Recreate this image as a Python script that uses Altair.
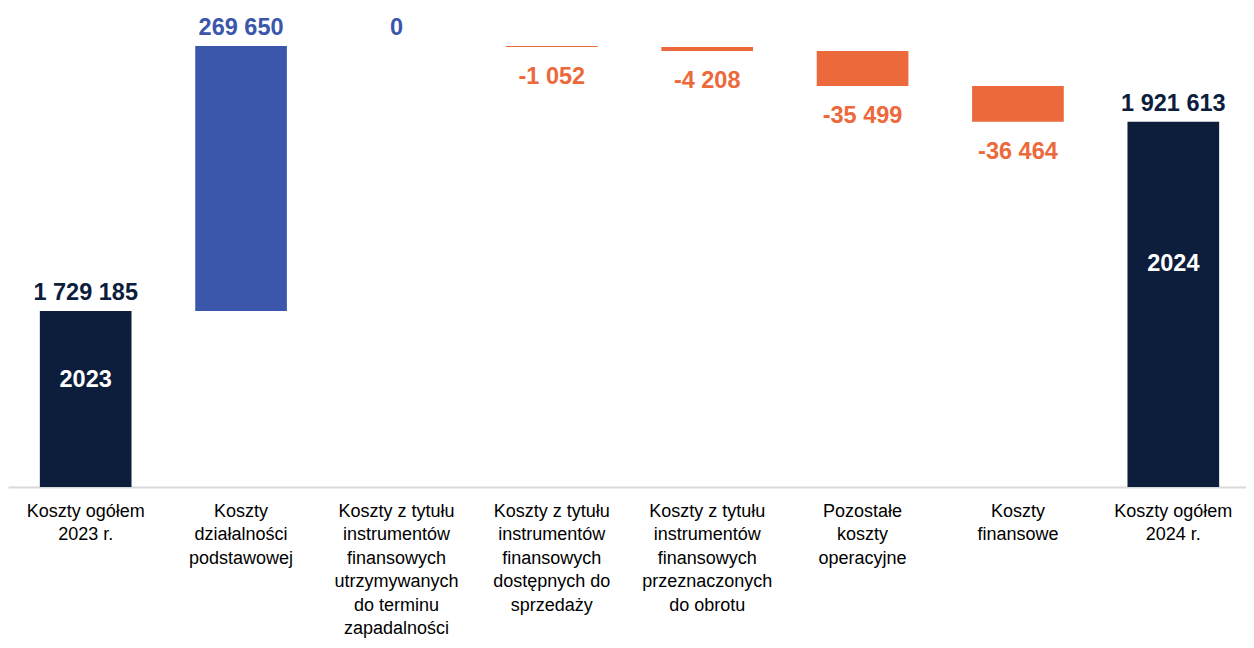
import altair as alt
import pandas as pd

categories = [
    "Koszty ogółem|2023 r.",
    "Koszty|działalności|podstawowej",
    "Koszty z tytułu|instrumentów|finansowych|utrzymywanych|do terminu|zapadalności",
    "Koszty z tytułu|instrumentów|finansowych|dostępnych do|sprzedaży",
    "Koszty z tytułu|instrumentów|finansowych|przeznaczonych|do obrotu",
    "Pozostałe|koszty|operacyjne",
    "Koszty|finansowe",
    "Koszty ogółem|2024 r.",
]
values = [1729185, 269650, 0, -1052, -4208, -35499, -36464, 1921613]
kinds = ["total", "delta", "delta", "delta", "delta", "delta", "delta", "total"]
inner_labels = ["2023", "", "", "", "", "", "", "2024"]

Y_MIN = 1550000
Y_MAX = 2037400

rows = []
running = 0
for cat, v, k, il in zip(categories, values, kinds, inner_labels):
    if k == "total":
        start, end = Y_MIN, v
        running = v
        kind = "total"
    else:
        start, end = running, running + v
        running = end
        kind = "neg" if v < 0 else "pos"
    txt = f"{v:,}".replace(",", " ")
    top = max(start, end)
    bottom = min(start, end)
    rows.append(dict(cat=cat, start=start, end=end, kind=kind, txt=txt,
                     top=top, bottom=bottom, inner=il,
                     innerpos=Y_MIN + 0.61 * (top - Y_MIN)))
df = pd.DataFrame(rows)

color_scale = alt.Scale(domain=["total", "pos", "neg"],
                        range=["#0D1D3C", "#3A57AB", "#EC693B"])

x = alt.X("cat:N", sort=categories, title=None,
          scale=alt.Scale(paddingInner=0.41, paddingOuter=0.205, range=[0, 1243]),
          axis=alt.Axis(labelAngle=0, labelExpr="split(datum.value, '|')",
                        labelFont="Liberation Sans", labelFontSize=18,
                        labelLineHeight=23.5, labelColor="#000000",
                        labelBaseline="top", labelPadding=15,
                        ticks=False, domainColor="#D9D9D9", domainWidth=2,
                        labelLimit=300))
yscale = alt.Scale(domain=[Y_MIN, Y_MAX], nice=False, zero=False)

base = alt.Chart(df)

bars = base.mark_bar(clip=True).encode(
    x=x,
    y=alt.Y("start:Q", scale=yscale, axis=None),
    y2="end:Q",
    color=alt.Color("kind:N", scale=color_scale, legend=None),
)

above = base.transform_filter("datum.kind != 'neg'").mark_text(
    baseline="bottom", dy=-6, font="Liberation Sans", fontSize=23.5, fontWeight="bold"
).encode(
    x=alt.X("cat:N", sort=categories),
    y=alt.Y("top:Q", scale=yscale),
    text="txt:N",
    color=alt.Color("kind:N", scale=color_scale, legend=None),
)

below = base.transform_filter("datum.kind == 'neg'").mark_text(
    baseline="top", dy=18, font="Liberation Sans", fontSize=23.5, fontWeight="bold"
).encode(
    x=alt.X("cat:N", sort=categories),
    y=alt.Y("bottom:Q", scale=yscale),
    text="txt:N",
    color=alt.Color("kind:N", scale=color_scale, legend=None),
)

inner = base.transform_filter("datum.inner != ''").mark_text(
    baseline="middle", font="Liberation Sans", fontSize=23.5, fontWeight="bold",
    color="#FFFFFF"
).encode(
    x=alt.X("cat:N", sort=categories),
    y=alt.Y("innerpos:Q", scale=yscale),
    text="inner:N",
)

chart = alt.layer(bars, above, below, inner).properties(
    width=1238, height=479,
    autosize=alt.AutoSizeParams(type="none"),
    padding={"left": 0, "top": 0, "right": 0, "bottom": 153},
).configure_view(stroke=None)

chart.save("out.html", embed_options={"renderer": "svg", "actions": False})
